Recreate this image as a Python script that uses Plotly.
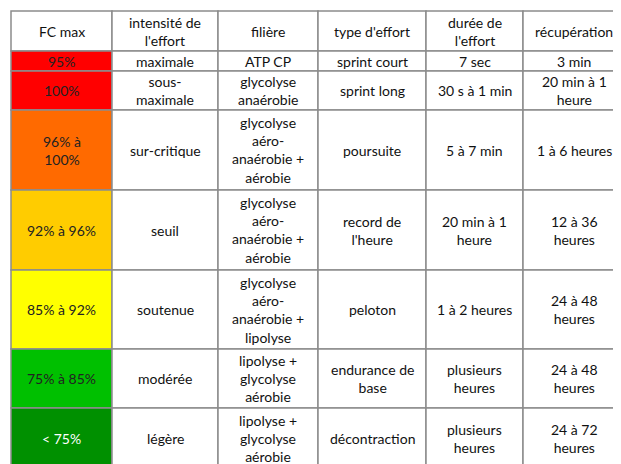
import plotly.graph_objects as go

headers = ["FC max", "intensité de<br>l'effort", "filière", "type d'effort", "durée de<br>l'effort", "récupération"]
fc = ["95%", "100%", "96% à<br>100%", "92% à 96%", "85% à 92%", "75% à 85%", "< 75%"]
intensite = ["maximale", "sous-<br>maximale", "sur-critique", "seuil", "soutenue", "modérée", "légère"]
filiere = ["ATP CP", "glycolyse<br>anaérobie", "glycolyse<br>aéro-<br>anaérobie +<br>aérobie",
           "glycolyse<br>aéro-<br>anaérobie +<br>aérobie", "glycolyse<br>aéro-<br>anaérobie +<br>lipolyse",
           "lipolyse +<br>glycolyse<br>aérobie", "lipolyse +<br>glycolyse<br>aérobie"]
type_effort = ["sprint court", "sprint long", "poursuite", "record de<br>l'heure", "peloton",
               "endurance de<br>base", "décontraction"]
duree = ["7 sec", "30 s à 1 min", "5 à 7 min", "20 min à 1<br>heure", "1 à 2 heures",
         "plusieurs<br>heures", "plusieurs<br>heures"]
recup = ["3 min", "20 min à 1<br>heure", "1 à 6 heures", "12 à 36<br>heures", "24 à 48<br>heures",
         "24 à 48<br>heures", "24 à 72<br>heures"]
fc_colors = ["#FF0000", "#FF0000", "#FF6A00", "#FFCC00", "#FFFF00", "#00C000", "#009000"]
fc_font = ["#222222"] * 6 + ["#FFFFFF"]

# layout geometry (pixels)
col_edges = [3, 104, 210, 310, 418, 515, 617]
row_edges = [3, 43, 63, 102, 182, 262, 341, 400, 460]

columns = [fc, intensite, filiere, type_effort, duree, recup]
fig = go.Figure()
shapes, annos = [], []
FONT = dict(family="Lato", size=14, color="#111111")

def cell(ci, ri, text, fill, color):
    x0, x1 = col_edges[ci], col_edges[ci + 1]
    y0, y1 = row_edges[ri], row_edges[ri + 1]
    shapes.append(dict(type="rect", x0=x0, x1=x1, y0=y0, y1=y1, fillcolor=fill,
                       line=dict(color="#8C8C8C", width=1.5), layer="below"))
    annos.append(dict(x=(x0 + x1) / 2, y=(y0 + y1) / 2, text=text, showarrow=False,
                      xanchor="center", yanchor="middle", align="center",
                      font=dict(FONT, color=color)))

for ci, h in enumerate(headers):
    cell(ci, 0, h, "white", "#111111")
for ci, col in enumerate(columns):
    for ri, t in enumerate(col):
        if ci == 0:
            cell(ci, ri + 1, t, fc_colors[ri], fc_font[ri])
        else:
            cell(ci, ri + 1, t, "white", "#111111")

fig.add_trace(go.Scatter(x=[0], y=[0], mode="markers", marker=dict(opacity=0), hoverinfo="skip", showlegend=False))
fig.update_layout(width=621, height=464, margin=dict(l=0, r=0, t=0, b=0),
                  paper_bgcolor="white", plot_bgcolor="white", shapes=shapes, annotations=annos,
                  xaxis=dict(range=[0, 621], visible=False, fixedrange=True),
                  yaxis=dict(range=[464, 0], visible=False, fixedrange=True))
fig.write_html("out.html")
